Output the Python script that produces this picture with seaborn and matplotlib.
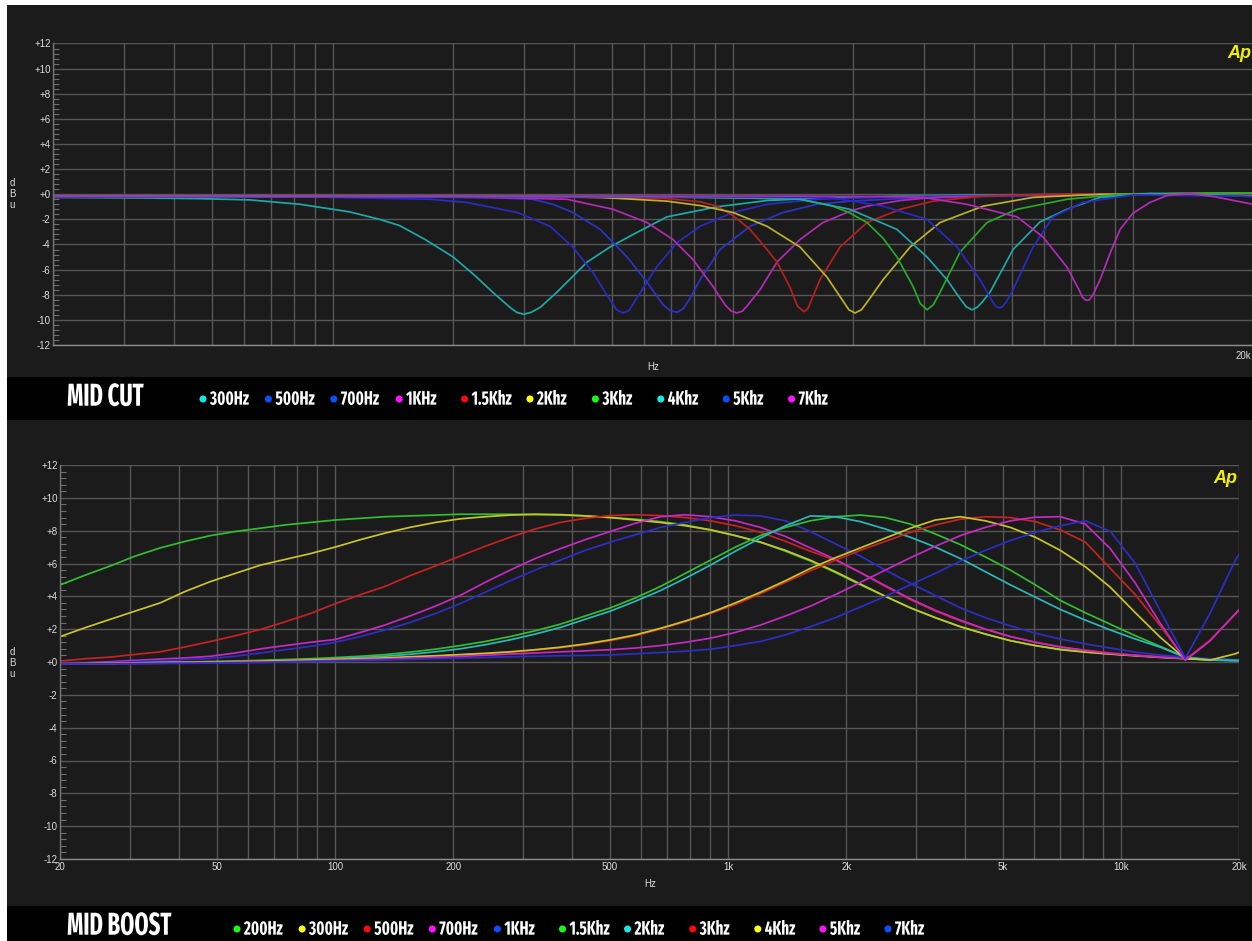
import matplotlib
matplotlib.use("Agg")
import matplotlib.pyplot as plt
from matplotlib import font_manager
from matplotlib.font_manager import FontProperties
from matplotlib.patches import Rectangle
from matplotlib.patheffects import AbstractPathEffect
from matplotlib.text import Text
from matplotlib.textpath import TextPath
from matplotlib.transforms import Affine2D, Bbox
from matplotlib.ticker import FixedLocator, FuncFormatter, AutoMinorLocator
import pandas as pd
import seaborn as sns

# ---------------- MID CUT responses: frequency (Hz) / level (dB) ----------------
cut_labels = ["300Hz", "500Hz", "700Hz", "1KHz", "1.5Khz", "2Khz", "3Khz", "4Khz", "5Khz", "7Khz"]

cut_300_f = [20, 34.9, 46.5, 62.1, 82.8, 110, 131, 147, 170, 200, 227, 251, 277, 288, 300, 313, 330, 363, 432, 493, 563, 684, 913, 1217, 1651, 2618, 4656, 8280, 13118, 18528, 20000]
cut_300_db = [-0.25, -0.3, -0.35, -0.45, -0.8, -1.4, -2.0, -2.5, -3.6, -5.0, -6.5, -7.8, -9.0, -9.4, -9.55, -9.4, -9.0, -7.8, -5.4, -4.2, -3.2, -1.8, -1.0, -0.5, -0.3, -0.15, -0.05, 0.0, 0.05, -0.1, -0.15]

cut_500_f = [20, 82.8, 175, 216, 289, 349, 398, 447, 493, 512, 531, 550, 586, 646, 725, 828, 1001, 1217, 1623, 2618, 4656, 11038, 18528, 20000]
cut_500_db = [-0.2, -0.2, -0.4, -0.65, -1.45, -2.55, -4.2, -6.25, -8.4, -9.2, -9.45, -9.25, -7.85, -5.75, -3.85, -2.55, -1.45, -0.8, -0.4, -0.2, -0.1, 0.0, -0.1, -0.15]

cut_700_f = [20, 147, 262, 316, 355, 398, 466, 544, 610, 669, 697, 725, 752, 781, 828, 929, 1104, 1335, 1623, 1963, 2618, 4656, 11038, 18528, 20000]
cut_700_db = [-0.2, -0.2, -0.3, -0.4, -0.8, -1.45, -2.8, -5.0, -7.0, -8.8, -9.25, -9.4, -9.1, -8.3, -6.8, -4.4, -2.55, -1.45, -0.8, -0.55, -0.35, -0.15, 0.0, -0.1, -0.15]

cut_1k_f = [20, 196, 294, 385, 502, 610, 708, 795, 892, 956, 990, 1024, 1057, 1091, 1169, 1289, 1472, 1680, 1963, 2164, 2618, 3164, 4656, 11038, 18528, 20000]
cut_1k_db = [-0.15, -0.2, -0.3, -0.4, -1.2, -2.25, -3.6, -5.2, -7.35, -8.8, -9.3, -9.45, -9.3, -8.8, -7.6, -5.4, -3.6, -2.25, -1.35, -0.95, -0.5, -0.25, -0.1, 0.05, -0.05, -0.1]

cut_1k5_f = [20, 349, 522, 684, 828, 913, 1001, 1104, 1203, 1289, 1389, 1450, 1506, 1540, 1577, 1651, 1853, 2164, 2618, 3164, 4220, 6206, 12384, 18528, 20000]
cut_1k5_db = [-0.15, -0.2, -0.3, -0.35, -0.6, -0.95, -1.7, -2.8, -4.2, -5.4, -7.4, -8.9, -9.35, -9.1, -8.3, -6.8, -4.2, -2.25, -1.2, -0.55, -0.15, 0.0, 0.05, -0.05, -0.1]

cut_2k_f = [20, 349, 466, 684, 828, 1001, 1217, 1472, 1719, 1885, 1950, 2020, 2095, 2176, 2374, 2774, 3296, 4220, 5628, 8280, 18528, 20000]
cut_2k_db = [-0.15, -0.2, -0.25, -0.55, -0.9, -1.45, -2.55, -4.2, -6.6, -8.5, -9.2, -9.45, -9.2, -8.5, -6.8, -4.2, -2.25, -0.95, -0.25, 0.0, 0.1, 0.1]

cut_3k_f = [20, 621, 1104, 1472, 1780, 1963, 2164, 2374, 2572, 2822, 2940, 3058, 3170, 3296, 3698, 4318, 5132, 6842, 9288, 18528, 20000]
cut_3k_db = [-0.15, -0.2, -0.3, -0.4, -0.95, -1.5, -2.25, -3.5, -5.0, -7.35, -8.7, -9.2, -8.8, -7.8, -4.6, -2.25, -1.2, -0.4, 0.0, 0.1, 0.1]

cut_4k_f = [20, 466, 828, 1104, 1472, 1963, 2572, 3058, 3430, 3698, 3830, 3962, 4080, 4196, 4394, 5016, 5860, 6842, 8280, 11038, 18528, 20000]
cut_4k_db = [-0.2, -0.2, -0.25, -0.3, -0.4, -1.2, -2.8, -5.0, -6.8, -8.3, -8.95, -9.2, -9.0, -8.6, -7.8, -4.4, -2.2, -1.2, -0.25, 0.05, -0.1, -0.15]

cut_5k_f = [20, 828, 1472, 1780, 2374, 3058, 3634, 4148, 4446, 4535, 4628, 4720, 4818, 5016, 5628, 6314, 7504, 10010, 18528, 20000]
cut_5k_db = [-0.2, -0.2, -0.25, -0.3, -0.95, -2.0, -4.2, -6.8, -8.5, -8.9, -9.05, -8.95, -8.6, -7.6, -4.2, -1.8, -0.65, -0.05, -0.15, -0.2]

cut_7k_f = [20, 1472, 2618, 2988, 3848, 5132, 5962, 6842, 7332, 7480, 7634, 7790, 7948, 8280, 8770, 9288, 10010, 11038, 12172, 13896, 16046, 18528, 20000]
cut_7k_db = [-0.15, -0.15, -0.2, -0.25, -0.8, -1.8, -3.4, -5.8, -7.6, -8.2, -8.45, -8.4, -8.0, -6.8, -4.7, -2.8, -1.5, -0.65, -0.1, 0.05, -0.2, -0.6, -0.8]

# ---------------- MID BOOST responses: shared frequency grid (Hz) / level (dB) ----------------
boost_labels = ["200Hz", "300Hz", "500Hz", "700Hz", "1KHz", "1.5Khz", "2Khz", "3Khz", "4Khz", "5Khz", "7Khz"]

boost_freq = [20, 23.2, 26.8, 31.0, 35.9, 41.6, 48.2, 55.8, 64.6, 74.7, 86.5, 100.1, 116, 134, 155, 180,
              208, 241, 279, 323, 374, 433, 502, 581, 673, 779, 902, 1044, 1209, 1400, 1620, 1876,
              2172, 2514, 2911, 3370, 3902, 4517, 5229, 6054, 7009, 8115, 9396, 10877, 12593, 14579,
              16879, 19540, 20000]

boost_200_db = [4.7, 5.3, 5.85, 6.45, 6.95, 7.35, 7.7, 7.95, 8.15, 8.35, 8.5, 8.65, 8.75, 8.85, 8.9, 8.95,
                9.0, 9.0, 9.0, 8.98, 8.95, 8.9, 8.8, 8.7, 8.55, 8.35, 8.05, 7.7, 7.3, 6.75, 6.15, 5.45,
                4.7, 4.0, 3.3, 2.7, 2.15, 1.7, 1.3, 1.0, 0.78, 0.62, 0.5, 0.4, 0.3, 0.22, 0.16, 0.12, 0.12]
boost_300_db = [1.55, 2.1, 2.6, 3.1, 3.6, 4.3, 4.9, 5.4, 5.9, 6.25, 6.6, 7.0, 7.45, 7.85, 8.2, 8.5,
                8.72, 8.85, 8.95, 9.0, 8.98, 8.9, 8.8, 8.65, 8.5, 8.3, 8.05, 7.7, 7.3, 6.8, 6.2, 5.5,
                4.75, 4.0, 3.3, 2.7, 2.15, 1.7, 1.3, 1.0, 0.75, 0.6, 0.48, 0.38, 0.28, 0.2, 0.14, 0.1, 0.1]
boost_500_db = [0.06, 0.2, 0.3, 0.46, 0.62, 0.92, 1.25, 1.6, 1.98, 2.45, 2.95, 3.55, 4.1, 4.6, 5.25, 5.85,
                6.45, 7.05, 7.6, 8.1, 8.5, 8.75, 8.92, 8.97, 8.92, 8.8, 8.6, 8.3, 7.9, 7.35, 6.75, 6.2,
                5.45, 4.6, 3.8, 3.1, 2.5, 2.0, 1.55, 1.2, 0.92, 0.72, 0.55, 0.42, 0.32, 0.24, 0.17, 0.12, 0.12]
boost_700_db = [-0.12, -0.05, 0.02, 0.1, 0.18, 0.25, 0.35, 0.55, 0.8, 1.0, 1.2, 1.37, 1.8, 2.25, 2.8, 3.4,
                4.05, 4.85, 5.6, 6.3, 6.9, 7.45, 7.95, 8.45, 8.85, 8.97, 8.85, 8.6, 8.2, 7.65, 6.95, 6.25,
                5.45, 4.65, 3.85, 3.15, 2.55, 2.0, 1.55, 1.2, 0.92, 0.7, 0.52, 0.4, 0.3, 0.22, 0.16, 0.12, 0.12]
boost_1k_db = [-0.12, -0.08, -0.04, 0.02, 0.08, 0.15, 0.22, 0.35, 0.55, 0.75, 0.95, 1.2, 1.55, 1.95, 2.4, 2.95,
               3.55, 4.25, 4.95, 5.6, 6.2, 6.8, 7.3, 7.75, 8.2, 8.5, 8.8, 8.95, 8.9, 8.6, 7.95, 7.2,
               6.45, 5.6, 4.8, 4.05, 3.3, 2.7, 2.2, 1.75, 1.4, 1.1, 0.85, 0.6, 0.42, 0.3, 0.2, 0.14, 0.14]
boost_1k5_db = [-0.12, -0.1, -0.08, -0.05, -0.02, 0.0, 0.03, 0.06, 0.1, 0.15, 0.2, 0.27, 0.35, 0.45, 0.6, 0.78,
                1.0, 1.25, 1.55, 1.9, 2.3, 2.8, 3.3, 3.9, 4.6, 5.4, 6.2, 7.0, 7.7, 8.2, 8.6, 8.85,
                8.95, 8.8, 8.4, 7.8, 7.15, 6.4, 5.6, 4.7, 3.75, 3.0, 2.3, 1.6, 0.95, 0.3, 0.12, 0.1, 0.1]
boost_2k_db = [-0.12, -0.1, -0.08, -0.06, -0.04, -0.02, 0.0, 0.03, 0.06, 0.1, 0.15, 0.2, 0.27, 0.35, 0.47, 0.62,
               0.8, 1.05, 1.35, 1.7, 2.1, 2.6, 3.1, 3.7, 4.35, 5.1, 5.9, 6.75, 7.55, 8.3, 8.9, 8.85,
               8.55, 8.1, 7.6, 7.0, 6.3, 5.5, 4.7, 3.95, 3.2, 2.55, 1.95, 1.4, 0.9, 0.28, 0.12, 0.08, 0.08]
boost_3k_db = [-0.12, -0.1, -0.08, -0.06, -0.04, -0.02, 0.0, 0.02, 0.05, 0.08, 0.12, 0.16, 0.2, 0.25, 0.3, 0.36,
               0.43, 0.5, 0.6, 0.72, 0.87, 1.05, 1.3, 1.6, 2.0, 2.45, 2.95, 3.5, 4.15, 4.85, 5.55, 6.2,
               6.8, 7.35, 7.9, 8.35, 8.7, 8.85, 8.8, 8.55, 8.05, 7.3, 5.7, 4.1, 2.2, 0.15, 1.35, 2.9, 3.15]
boost_4k_db = [-0.12, -0.1, -0.08, -0.06, -0.04, -0.02, 0.0, 0.02, 0.05, 0.08, 0.12, 0.16, 0.2, 0.25, 0.32, 0.38,
               0.45, 0.53, 0.62, 0.75, 0.9, 1.1, 1.35, 1.65, 2.05, 2.5, 3.0, 3.6, 4.25, 4.95, 5.7, 6.35,
               6.95, 7.55, 8.15, 8.65, 8.85, 8.6, 8.2, 7.6, 6.8, 5.8, 4.55, 3.0, 1.5, 0.2, 0.12, 0.5, 0.6]
boost_5k_db = [-0.12, -0.11, -0.1, -0.09, -0.08, -0.06, -0.04, -0.02, 0.0, 0.03, 0.06, 0.1, 0.14, 0.18, 0.23, 0.28,
               0.34, 0.41, 0.48, 0.55, 0.62, 0.68, 0.75, 0.85, 1.0, 1.2, 1.45, 1.8, 2.25, 2.8, 3.4, 4.1,
               4.85, 5.6, 6.35, 7.05, 7.7, 8.2, 8.6, 8.82, 8.85, 8.4, 6.9, 4.8, 2.35, 0.1, 1.3, 2.95, 3.2]
boost_7k_db = [-0.12, -0.12, -0.11, -0.1, -0.09, -0.08, -0.07, -0.05, -0.03, 0.0, 0.03, 0.06, 0.09, 0.12, 0.16, 0.2,
               0.24, 0.28, 0.32, 0.35, 0.38, 0.4, 0.43, 0.5, 0.58, 0.66, 0.78, 1.0, 1.25, 1.65, 2.15, 2.7,
               3.35, 4.0, 4.7, 5.4, 6.15, 6.8, 7.4, 7.9, 8.3, 8.6, 7.95, 6.0, 3.1, 0.23, 3.0, 6.2, 6.6]

# axis ticks
grid_freqs = [20, 30, 40, 50, 60, 70, 80, 90, 100, 200, 300, 400, 500, 600, 700, 800, 900,
              1000, 2000, 3000, 4000, 5000, 6000, 7000, 8000, 9000, 10000, 20000]
freq_labels = {20: "20", 50: "50", 100: "100", 200: "200", 500: "500", 1000: "1k",
               2000: "2k", 5000: "5k", 10000: "10k", 20000: "20k"}
db_ticks = [-12, -10, -8, -6, -4, -2, 0, 2, 4, 6, 8, 10, 12]

# ---------------- styling ----------------
W, H = 1252, 941
PANEL = "#1b1b1b"
GRID = "#565656"
TXT = "#dcdcdc"

cut_line_colors = ["#1fa8a8", "#2a2ac4", "#2c34c8", "#b52ab5", "#b82020", "#bab22a",
                   "#28aa28", "#20a8a8", "#2a2ac4", "#b52ab5"]
cut_dot_colors = ["#19e6e6", "#0a50ff", "#0a50ff", "#ff14ff", "#ff0a0a", "#ffff14",
                  "#14ff14", "#19e6e6", "#0a50ff", "#ff14ff"]
boost_line_colors = ["#30bf30", "#c9c42a", "#c82222", "#c42ac4", "#2d2dc8", "#30bf30",
                     "#2ab8b8", "#c82222", "#c9c42a", "#c42ac4", "#2d2dc8"]
boost_dot_colors = ["#14ff14", "#ffff14", "#ff0a0a", "#ff14ff", "#0a50ff", "#14ff14",
                    "#19e6e6", "#ff0a0a", "#ffff14", "#ff14ff", "#0a50ff"]

sns.set_theme(style="dark")
plt.rcParams["font.family"] = ["Liberation Sans", "DejaVu Sans"]


def pick_condensed_bold():
    """Path of an upright, bold, condensed face if one is installed."""
    best, best_rank = None, 99.0
    for fe in font_manager.fontManager.ttflist:
        fn = fe.fname.lower().replace("-", "").replace("_", "")
        key = fn + " " + fe.name.lower().replace(" ", "")
        if "italic" in key or "oblique" in key:
            continue
        w = fe.weight
        bold = (isinstance(w, (int, float)) and w >= 600) or str(w) in ("bold", "heavy", "black") or "bold" in fn
        if not bold:
            continue
        if "extracondensed" in key or "extcond" in key:
            rank = 0.0
        elif "semicondensed" in key or "semicond" in key:
            rank = 3.0
        elif "condensed" in key or "narrow" in key or "cond" in key:
            rank = 1.0
        else:
            continue
        if "semibold" in fn or "extrabold" in fn or "black" in fn:
            rank += 0.4
        if rank < best_rank:
            best, best_rank = fe.fname, rank
    return best


_cond = pick_condensed_bold()
CAP_FP = FontProperties(fname=_cond) if _cond else FontProperties(family="DejaVu Sans", weight="bold")


def text_size_px(s, size_pt):
    ext = TextPath((0, 0), s, size=size_pt, prop=CAP_FP).get_extents()
    return ext.width * 100 / 72, ext.height * 100 / 72


def caption_metrics(sample, cap_px, width_px):
    """Font size giving the wanted cap height, and the horizontal squeeze for the wanted width."""
    _, h1 = text_size_px("H", 10)
    size = 10 * cap_px / h1
    w, _ = text_size_px(sample, size)
    return size, min(1.0, width_px / w)


class Squeeze(AbstractPathEffect):
    """Narrows glyphs horizontally around the text's left edge (condensed lettering)."""

    def __init__(self, sx):
        super().__init__()
        self.sx = sx

    def draw_path(self, renderer, gc, tpath, affine, rgbFace=None):
        renderer.draw_path(gc, tpath, Affine2D().scale(self.sx, 1.0) + affine, rgbFace)


class NarrowText(Text):
    """Left-anchored text drawn condensed; its extent reports the condensed width."""

    def __init__(self, *args, squeeze=1.0, **kwargs):
        super().__init__(*args, **kwargs)
        self._squeeze = squeeze
        if squeeze < 0.999:
            self.set_path_effects([Squeeze(squeeze)])

    def get_window_extent(self, renderer=None, dpi=None):
        bb = super().get_window_extent(renderer, dpi)
        return Bbox.from_extents(bb.x0, bb.y0, bb.x0 + bb.width * self._squeeze, bb.y1)


fig = plt.figure(figsize=(W / 100, H / 100), dpi=100, facecolor="white")


def fx(px):
    return px / W


def fy(py):
    return 1 - py / H


# dark backdrop and the two black caption bands
fig.patches.append(Rectangle((fx(7), 0), 1 - fx(7), fy(5), transform=fig.transFigure,
                             facecolor=PANEL, edgecolor="none", zorder=-10))
for top, bot in [(377, 420), (906, 941)]:
    fig.patches.append(Rectangle((fx(7), fy(bot)), 1 - fx(7), (bot - top) / H,
                                 transform=fig.transFigure, facecolor="black",
                                 edgecolor="none", zorder=-9))


def style_axes(ax, show_freq_labels):
    ax.set_facecolor(PANEL)
    ax.set_xscale("log")
    ax.set_xlim(20, 20000)
    ax.set_ylim(-12, 12)
    ax.xaxis.set_major_locator(FixedLocator(grid_freqs))
    ax.xaxis.set_minor_locator(FixedLocator([]))
    if show_freq_labels:
        ax.xaxis.set_major_formatter(FuncFormatter(lambda v, p: freq_labels.get(int(round(v)), "")))
    else:
        ax.xaxis.set_major_formatter(FuncFormatter(lambda v, p: ""))
    ax.yaxis.set_major_locator(FixedLocator(db_ticks))
    ax.yaxis.set_major_formatter(FuncFormatter(lambda v, p: f"+{int(v)}" if v >= 0 else f"{int(v)}"))
    ax.yaxis.set_minor_locator(AutoMinorLocator(5))
    ax.grid(True, which="major", color=GRID, linewidth=1.0)
    ax.grid(False, which="minor")
    ax.tick_params(axis="both", which="major", length=0, labelsize=7, colors=TXT, pad=2)
    ax.tick_params(axis="y", which="minor", direction="in", length=4, width=0.8,
                   color="#6e6e6e", left=True)
    ax.tick_params(axis="x", which="both", bottom=False)
    for side in ("top", "right"):
        ax.spines[side].set_visible(False)
    ax.spines["left"].set_color("#747474")
    ax.spines["bottom"].set_color("#8c8c8c")
    for s in ("left", "bottom"):
        ax.spines[s].set_linewidth(1.0)
    ax.set_ylabel("")
    ax.set_xlabel("Hz", color=TXT, fontsize=7)


def draw_curves(ax, labels, freqs, levels, colors):
    frames = [pd.DataFrame({"freq": f, "db": d, "series": lab})
              for lab, f, d in zip(labels, freqs, levels)]
    df = pd.concat(frames, ignore_index=True)
    sns.lineplot(data=df, x="freq", y="db", hue="series", hue_order=labels,
                 palette=dict(zip(labels, colors)), estimator=None, sort=False,
                 legend=False, linewidth=1.25, ax=ax)


# ---------------- MID CUT chart ----------------
ax_cut = fig.add_axes([fx(53.3), fy(345), 1200 / W, 301.5 / H])
ax_cut.set_xscale("log")
draw_curves(ax_cut, cut_labels,
            [cut_300_f, cut_500_f, cut_700_f, cut_1k_f, cut_1k5_f, cut_2k_f,
             cut_3k_f, cut_4k_f, cut_5k_f, cut_7k_f],
            [cut_300_db, cut_500_db, cut_700_db, cut_1k_db, cut_1k5_db, cut_2k_db,
             cut_3k_db, cut_4k_db, cut_5k_db, cut_7k_db],
            cut_line_colors)
style_axes(ax_cut, show_freq_labels=False)
ax_cut.xaxis.labelpad = 10
ax_cut.text(0.9985, -0.02, "20k", transform=ax_cut.transAxes, ha="right", va="top",
            fontsize=7, color=TXT)

# ---------------- MID BOOST chart ----------------
ax_boost = fig.add_axes([fx(60.3), fy(859), 1179 / W, 394 / H])
ax_boost.set_xscale("log")
draw_curves(ax_boost, boost_labels,
            [boost_freq] * len(boost_labels),
            [boost_200_db, boost_300_db, boost_500_db, boost_700_db, boost_1k_db, boost_1k5_db,
             boost_2k_db, boost_3k_db, boost_4k_db, boost_5k_db, boost_7k_db],
            boost_line_colors)
style_axes(ax_boost, show_freq_labels=True)
ax_boost.xaxis.labelpad = 5

# unit labels and logo
for yc in (194, 663):
    fig.text(fx(12), fy(yc), "d\nB\nu", ha="center", va="center", fontsize=7,
             color=TXT, linespacing=1.15)
fig.text(fx(1251), fy(54), "Ap", ha="right", va="center", fontsize=13,
         fontweight="bold", fontstyle="italic", color="#f2ee00")
fig.text(fx(1237), fy(478), "Ap", ha="right", va="center", fontsize=13,
         fontweight="bold", fontstyle="italic", color="#f2ee00")

# ---------------- caption bands ----------------
TITLE_SIZE, TITLE_SQ = caption_metrics("MID CUT", 22, 76)
ITEM_SIZE, ITEM_SQ = caption_metrics("300Hz", 13.5, 39)


def caption(title, y_title, y_items, x0, step, labels, colors):
    band = fig.add_axes([0, 0, 1, 1], zorder=5)
    band.set_xlim(0, W)
    band.set_ylim(H, 0)
    band.set_axis_off()
    fp_t = CAP_FP.copy()
    fp_t.set_size(TITLE_SIZE)
    band.add_artist(NarrowText(67, y_title, title, ha="left", va="center", color="white",
                               fontproperties=fp_t, squeeze=TITLE_SQ))
    xs = [x0 + i * step for i in range(len(labels))]
    band.scatter(xs, [y_items] * len(xs), s=26, c=colors, linewidths=0, zorder=6)
    fp_i = CAP_FP.copy()
    fp_i.set_size(ITEM_SIZE)
    for x, lab in zip(xs, labels):
        band.add_artist(NarrowText(x + 7, y_items, lab, ha="left", va="center", color="white",
                                   fontproperties=fp_i, squeeze=ITEM_SQ))


caption("MID CUT", 397, 399, 203, 65.4, cut_labels, cut_dot_colors)
caption("MID BOOST", 926, 929, 237, 65.1, boost_labels, boost_dot_colors)

fig.savefig("out.png", dpi=100, facecolor="white")
